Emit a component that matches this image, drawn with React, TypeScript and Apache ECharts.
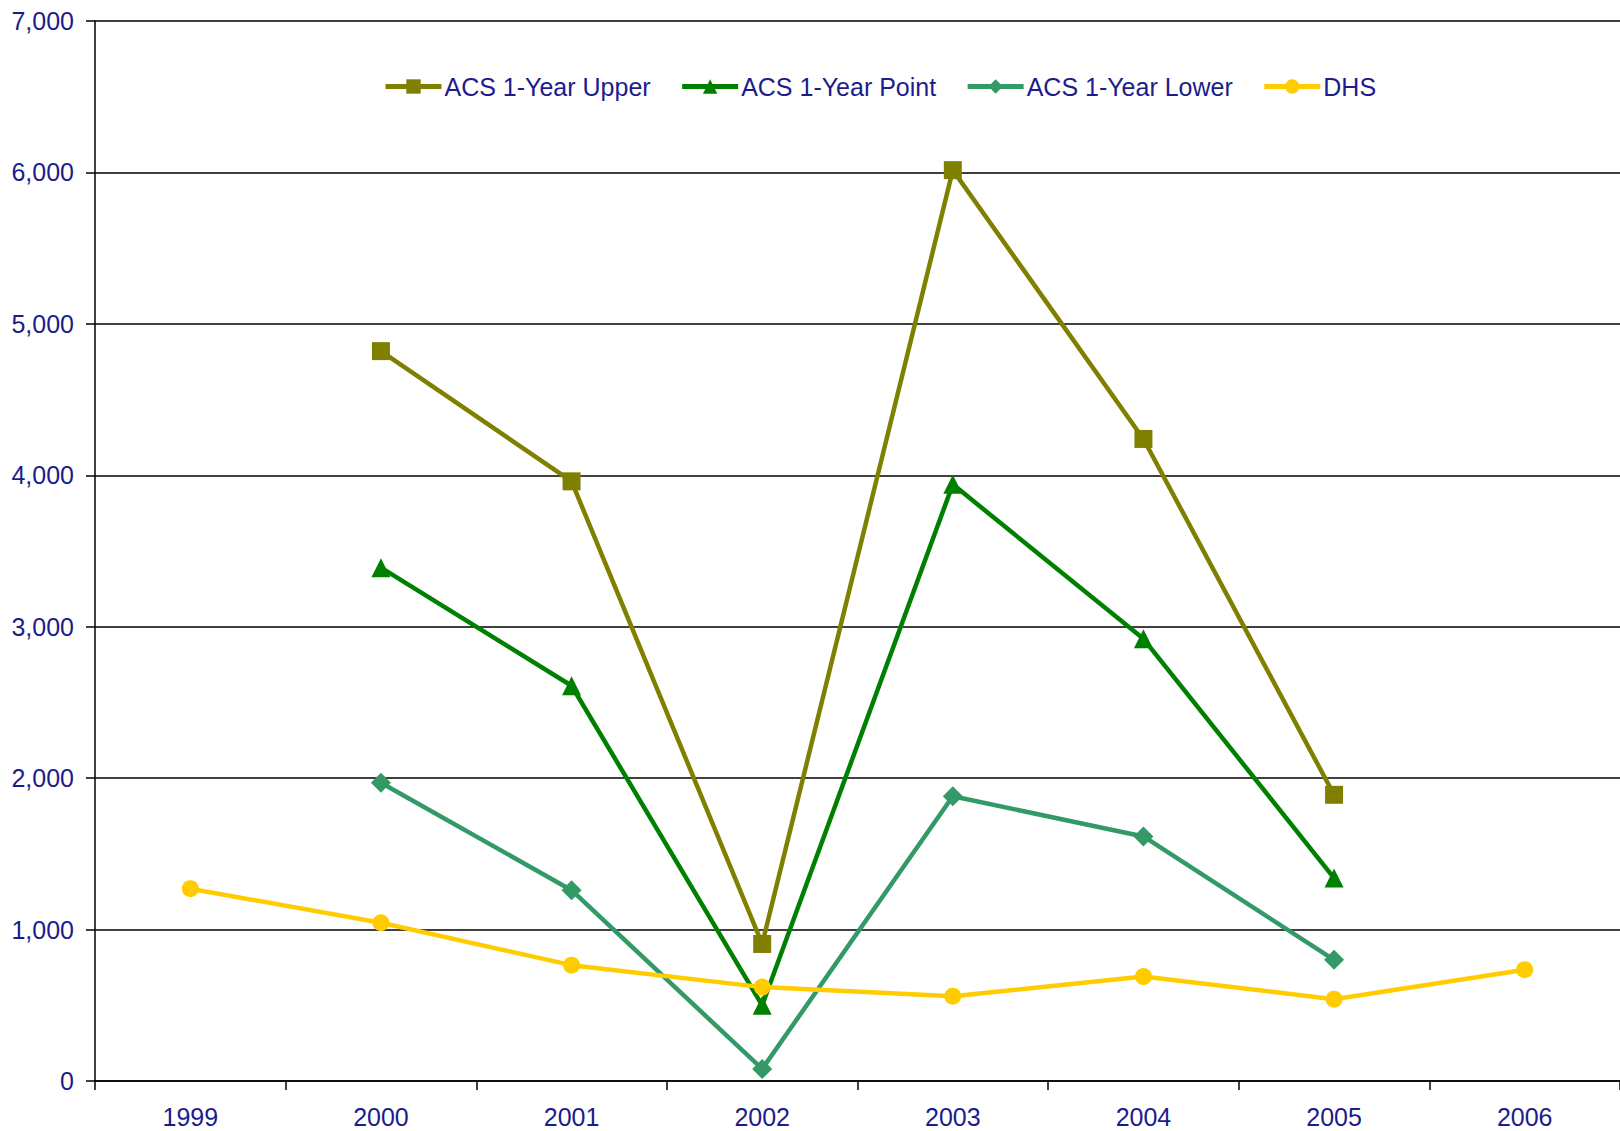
import React, { useEffect, useRef } from "react";
import * as echarts from "echarts";

const years = ["1999", "2000", "2001", "2002", "2003", "2004", "2005", "2006"];
const acsUpper = [null, 4820, 3960, 905, 6015, 4240, 1890, null];
const acsPoint = [null, 3390, 2610, 500, 3940, 2920, 1340, null];
const acsLower = [null, 1970, 1260, 80, 1880, 1615, 800, null];
const dhs = [1270, 1045, 765, 620, 560, 690, 540, 735];

const FONT = "Liberation Sans, Arial, sans-serif";
const TEXT = "#1c1c8c";

export default function App() {
  const ref = useRef<HTMLDivElement>(null);
  useEffect(() => {
    if (!ref.current) return;
    const chart = echarts.init(ref.current, null, { renderer: "svg" });
    const mk = (name: string, data: any[], color: string, symbol: string, size: number) => ({
      name,
      type: "line",
      data,
      connectNulls: false,
      symbol,
      symbolSize: size,
      showSymbol: true,
      lineStyle: { color, width: 4.5 },
      itemStyle: { color, borderWidth: 0 },
      emphasis: { disabled: true },
    });
    chart.setOption({
      animation: false,
      backgroundColor: "#ffffff",
      textStyle: { fontFamily: FONT },
      grid: { left: 95, top: 21, right: -3, bottom: 50, containLabel: false },
      legend: {
        left: 378,
        top: 69,
        itemWidth: 56,
        itemHeight: 18,
        itemGap: 29,
        lineStyle: { width: 5 },
        textStyle: { color: TEXT, fontSize: 25, fontFamily: FONT, padding: [0, 0, 0, -2] },
        data: ["ACS 1-Year Upper", "ACS 1-Year Point", "ACS 1-Year Lower", "DHS"],
      },
      xAxis: {
        type: "category",
        data: years,
        boundaryGap: true,
        axisLine: { lineStyle: { color: "#000", width: 1.5 } },
        axisTick: { show: true, length: 9, interval: 0, alignWithLabel: false, lineStyle: { color: "#000", width: 1.5 } },
        axisLabel: { color: TEXT, fontSize: 25, fontFamily: FONT, margin: 23, interval: 0 },
        splitLine: { show: false },
      },
      yAxis: {
        type: "value",
        min: 0,
        max: 7000,
        interval: 1000,
        axisLine: { show: true, lineStyle: { color: "#000", width: 1.5 } },
        axisTick: { show: true, length: 9, lineStyle: { color: "#000", width: 1.5 } },
        axisLabel: {
          color: TEXT,
          fontSize: 25,
          fontFamily: FONT,
          margin: 21,
          formatter: (v: number) => v.toLocaleString("en-US"),
        },
        splitLine: { show: true, lineStyle: { color: "#000", width: 1.5 } },
      },
      series: [
        mk("ACS 1-Year Upper", acsUpper, "#808000", "rect", 18),
        mk("ACS 1-Year Point", acsPoint, "#008000", "triangle", 19),
        mk("ACS 1-Year Lower", acsLower, "#339966", "diamond", 20),
        mk("DHS", dhs, "#FFCC00", "circle", 17),
      ],
    });
    return () => chart.dispose();
  }, []);
  return (
    <div
      ref={ref}
      style={{ position: "fixed", left: 0, top: 0, width: 1620, height: 1131, background: "#fff" }}
    />
  );
}
